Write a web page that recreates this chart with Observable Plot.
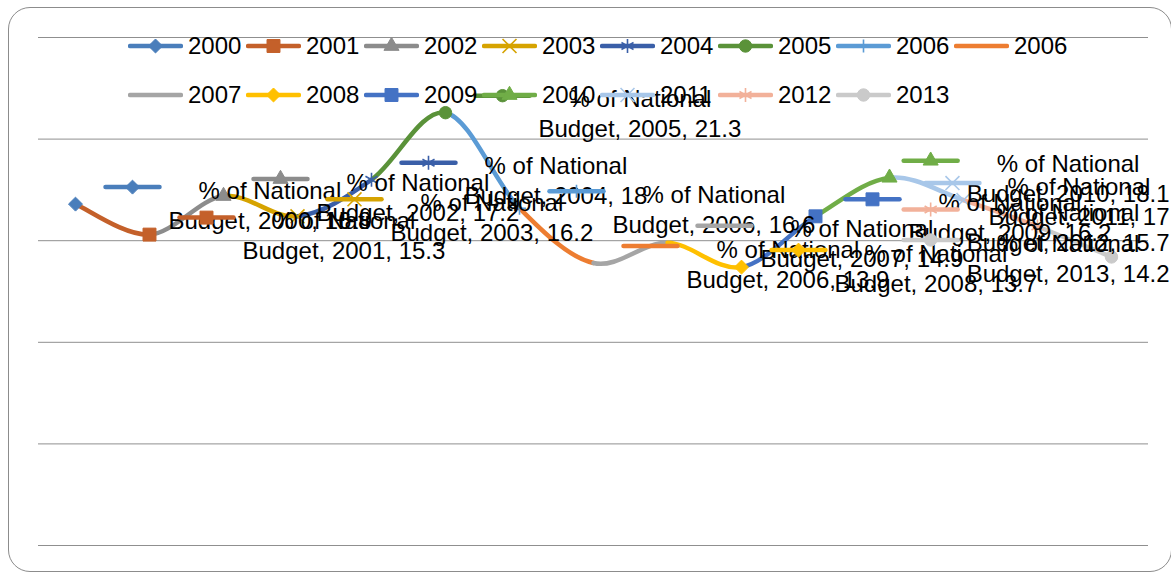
<!DOCTYPE html>
<html>
<head>
<meta charset="utf-8">
<script src="https://cdn.jsdelivr.net/npm/d3@7"></script>
<script src="https://cdn.jsdelivr.net/npm/@observablehq/plot@0.6"></script>
<style>
  html, body { margin: 0; padding: 0; background: #fff; }
  #chart { position: relative; width: 1171px; height: 573px; overflow: hidden;
           font-family: "Liberation Sans", Arial, sans-serif; }
  #border { position: absolute; left: 8px; top: 7px; width: 1164px; height: 565px;
            border: 1.5px solid #8c8c8c; border-radius: 22px; box-sizing: border-box; }
  #plot { position: absolute; left: 0; top: 0; }
  #legend { position: absolute; left: 0; top: 0; width: 1171px; height: 130px; pointer-events: none; }
  .entry { position: absolute; height: 30px; display: flex; align-items: center; white-space: nowrap; }
  .entry span { font-size: 24px; line-height: 30px; margin-left: 5px; color: #000; }
</style>
</head>
<body>
<div id="chart">
  <div id="border"></div>
  <div id="plot"></div>
  <div id="legend"></div>
</div>
<script>
// Share of the national budget by year (two readings reported for 2006)
const years  = ["2000","2001","2002","2003","2004","2005","2006","2006","2007","2008","2009","2010","2011","2012","2013"];
const values = [16.8, 15.3, 17.2, 16.2, 18, 21.3, 16.6, 13.9, 14.9, 13.7, 16.2, 18.1, 17, 15.7, 14.2];
const seriesName = "% of National Budget";
const gridTicks = [0, 5, 10, 15, 20, 25];

// one colour and marker per year series
const seriesColors = ["#4A7EBB","#C4602A","#8C8C8C","#D6A300","#3A5FA8","#5A9239","#5B9BD5","#ED7D31",
                      "#A5A5A5","#FFC000","#4472C4","#70AD47","#A8C7E9","#F2B19A","#CACACA"];
const seriesSymbols = ["diamond2","square","triangle","times","asterisk","circle","plus",null,
                       null,"diamond2","square","triangle","times","asterisk","circle"];

// marker radius and fill style per symbol
const symbolStyle = {
  diamond2: {r: 6.3, filled: true},
  square:   {r: 7.3, filled: true},
  triangle: {r: 5.6, filled: true},
  circle:   {r: 6.2, filled: true},
  times:    {r: 6.4, filled: false},
  asterisk: {r: 6.6, filled: false},
  plus:     {r: 4.3, filled: false}
};
const d3Symbols = {
  diamond2: d3.symbolDiamond2, square: d3.symbolSquare, triangle: d3.symbolTriangle,
  circle: d3.symbolCircle, times: d3.symbolTimes, asterisk: d3.symbolAsterisk, plus: d3.symbolPlus
};

const width = 1171, height = 573;
const margin = {left: 38, right: 23, top: 37, bottom: 28};
const xDomain = [-0.5, years.length - 0.5];
const xs = d3.scaleLinear(xDomain, [margin.left, width - margin.right]);

const points = values.map((v, i) => ({i, v, year: years[i], color: seriesColors[i], symbol: seriesSymbols[i]}));

// each year's series is the smoothed stretch from the previous year to itself;
// neighbours on both sides are passed along to shape the tangents
const last = values.length - 1;
const segments = [];
for (let k = 1; k <= last; ++k) {
  for (const j of [Math.max(k - 2, 0), k - 1, k, Math.min(k + 1, last)]) {
    segments.push({seg: k, i: j, v: values[j]});
  }
}

// curve: draws only the middle piece of four points as a cardinal Bézier
function middleSegment(context) {
  let pts;
  return {
    areaStart() {}, areaEnd() {},
    lineStart() { pts = []; },
    point(x, y) { pts.push([+x, +y]); },
    lineEnd() {
      if (pts.length < 4) return;
      const [p0, p1, p2, p3] = pts;
      const t = 1 / 6;
      context.moveTo(p1[0], p1[1]);
      context.bezierCurveTo(
        p1[0] + (p2[0] - p0[0]) * t, p1[1] + (p2[1] - p0[1]) * t,
        p2[0] - (p3[0] - p1[0]) * t, p2[1] - (p3[1] - p1[1]) * t,
        p2[0], p2[1]);
    }
  };
}

// short horizontal stroke used as the legend key inside data labels
const keyDash = { draw(context) { context.moveTo(-27, 0); context.lineTo(27, 0); } };

const font = '24px "Liberation Sans", Arial, sans-serif';
const measure = (() => {
  const ctx = document.createElement("canvas").getContext("2d");
  ctx.font = font;
  return s => ctx.measureText(s).width;
})();

function labelLines(d) {
  return `${seriesName}, ${d.year}, ${d.v}`.replace(" Budget", "\nBudget");
}

function markerMarks(data, sym, color, offset = {}) {
  if (!sym) return [];
  const st = symbolStyle[sym];
  return [Plot.dot(data, {
    x: "i", y: "v", symbol: sym, r: st.r, ...offset,
    fill: st.filled ? color : "none",
    stroke: color, strokeWidth: st.filled ? 1 : 1.6
  })];
}

const marks = [
  Plot.ruleY(gridTicks, {stroke: "#8f8f8f", strokeWidth: 1}),
  Plot.line(segments, {
    x: "i", y: "v", z: "seg", stroke: d => seriesColors[d.seg],
    strokeWidth: 4.5, strokeLinecap: "round", curve: middleSegment
  })
];

// markers on the line
for (const p of points) marks.push(...markerMarks([p], p.symbol, p.color));

// data labels with their keys, placed to the right of each point and kept inside the chart
for (const p of points) {
  const lines = labelLines(p).split("\n");
  const w = Math.max(...lines.map(measure));
  const px = xs(p.i);
  const keyX = Math.min(px + 57, 1133 - w);
  const dxKey = keyX - px;
  marks.push(Plot.dot([p], {x: "i", y: "v", dx: dxKey, dy: -17, symbol: keyDash, r: 5,
    fill: "none", stroke: p.color, strokeWidth: 4.5, strokeLinecap: "round"}));
  marks.push(...markerMarks([p], p.symbol, p.color, {dx: dxKey, dy: -17}));
  marks.push(Plot.text([p], {x: "i", y: "v", text: labelLines, dx: dxKey + 36 + w / 2,
    lineAnchor: "middle", lineHeight: 1.25, fontSize: 24, fill: "#000", textAnchor: "middle"}));
}

const chart = Plot.plot({
  width, height,
  marginLeft: margin.left, marginRight: margin.right, marginTop: margin.top, marginBottom: margin.bottom,
  x: {domain: xDomain, axis: null},
  y: {domain: [0, 25], axis: null},
  color: {type: "identity"},
  style: {fontFamily: '"Liberation Sans", Arial, sans-serif', fontSize: "24px", background: "transparent", overflow: "visible"},
  marks
});
document.getElementById("plot").append(chart);

// legend: eight columns, two rows, over the top of the plot area
const legend = d3.select("#legend");
const colLeft = 128, colStep = 118, rowCenters = [46, 95];
years.forEach((yr, k) => {
  const col = k % 8, row = Math.floor(k / 8);
  const entry = legend.append("div").attr("class", "entry")
    .style("left", `${colLeft + col * colStep}px`)
    .style("top", `${rowCenters[row] - 15}px`);
  const svg = entry.append("svg").attr("width", 55).attr("height", 30);
  const color = seriesColors[k];
  svg.append("line").attr("x1", 2).attr("x2", 53).attr("y1", 15).attr("y2", 15)
    .attr("stroke", color).attr("stroke-width", 4.5).attr("stroke-linecap", "round");
  const sym = seriesSymbols[k];
  if (sym) {
    const st = symbolStyle[sym];
    svg.append("path")
      .attr("transform", "translate(27.5,15)")
      .attr("d", d3.symbol(d3Symbols[sym], Math.PI * st.r * st.r)())
      .attr("fill", st.filled ? color : "none")
      .attr("stroke", color).attr("stroke-width", st.filled ? 1 : 1.6);
  }
  entry.append("span").text(yr);
});
</script>
</body>
</html>
